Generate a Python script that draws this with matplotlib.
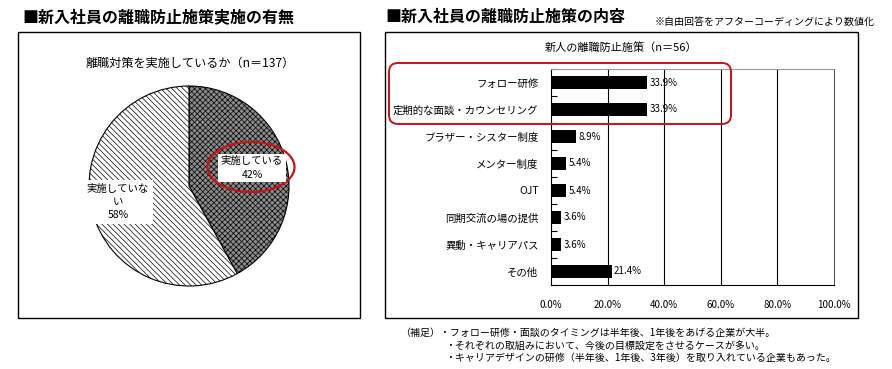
import matplotlib
matplotlib.use('Agg')
import matplotlib.pyplot as plt
from matplotlib.patches import Rectangle, Ellipse, FancyBboxPatch
from matplotlib.transforms import IdentityTransform
import numpy as np

plt.rcParams['font.family'] = ['Noto Sans CJK JP', 'DejaVu Sans']
plt.rcParams['hatch.linewidth'] = 0.5

W, H = 892, 369

# left: pie data
pie_labels = ['実施している', '実施していな\nい']
pie_values = [42, 58]

# right: bar data
categories = ['フォロー研修', '定期的な面談・カウンセリング', 'ブラザー・シスター制度',
              'メンター制度', 'OJT', '同期交流の場の提供', '異動・キャリアパス', 'その他']
values = [33.9, 33.9, 8.9, 5.4, 5.4, 3.6, 3.6, 21.4]
xticks = [0, 20, 40, 60, 80, 100]

notes = ['（補足）・フォロー研修・面談のタイミングは半年後、1年後をあげる企業が大半。',
         '・それぞれの取組みにおいて、今後の目標設定をさせるケースが多い。',
         '・キャリアデザインの研修（半年後、1年後、3年後）を取り入れている企業もあった。']


def fx(x):
    return x / W


def fy(y):
    return 1 - y / H


def px_axes(fig, l, t, r, b):
    return fig.add_axes([fx(l), fy(b), (r - l) / W, (b - t) / H])


fig = plt.figure(figsize=(W / 100, H / 100), dpi=100)

# titles and frames
fig.text(fx(22), fy(17), '■新入社員の離職防止施策実施の有無', fontsize=11.5,
         fontweight='bold', va='center', ha='left')
fig.text(fx(385), fy(17), '■新入社員の離職防止施策の内容', fontsize=11.5,
         fontweight='bold', va='center', ha='left')
fig.text(fx(875), fy(22), '※自由回答をアフターコーディングにより数値化', fontsize=7.2,
         va='center', ha='right')

for (l, t, r, b) in [(18, 32, 360, 318), (385, 32, 858, 318)]:
    fig.add_artist(Rectangle((fx(l), fy(b)), (r - l) / W, (b - t) / H,
                             transform=fig.transFigure, fill=False,
                             edgecolor='black', lw=1.0))

# pie
fig.text(fx(190), fy(63), '離職対策を実施しているか（n＝137）', fontsize=8.7,
         ha='center', va='center')
axp = px_axes(fig, 88, 85, 290, 287)
wedges, _ = axp.pie(pie_values, startangle=90, counterclock=False,
                    wedgeprops=dict(edgecolor='black', linewidth=0.8))
wedges[0].set_facecolor('#8c8c8c')
wedges[0].set_hatch('xxxxxx')
wedges[1].set_facecolor('white')
wedges[1].set_hatch('\\\\\\\\\\\\')
for w in wedges:
    w.set_edgecolor('black')
axp.set_xlim(-1.01, 1.01)
axp.set_ylim(-1.01, 1.01)
axp.set_aspect('equal')
axp.axis('off')

fig.text(fx(252), fy(168), pie_labels[0] + '\n' + f'{pie_values[0]}%', fontsize=7.5,
         ha='center', va='center', linespacing=1.4,
         bbox=dict(facecolor='white', edgecolor='none', pad=2))
fig.text(fx(118), fy(202), pie_labels[1] + '\n' + f'{pie_values[1]}%', fontsize=7.5,
         ha='center', va='center', linespacing=1.4,
         bbox=dict(facecolor='white', edgecolor='none', pad=3))
fig.add_artist(Ellipse((fx(251), fy(167)), 87 / W, 50 / H, transform=fig.transFigure,
                       fill=False, edgecolor='#cc1111', lw=1.6))

# bar chart
fig.text(fx(621), fy(47), '新人の離職防止施策（n＝56）', fontsize=8, ha='center', va='center')
ax = px_axes(fig, 551, 69, 834, 285)
y = np.arange(len(categories))
ax.barh(y, values, height=0.48, color='black', zorder=3)
for yi, v in zip(y, values):
    ax.text(v + 0.8, yi, f'{v:.1f}%', fontsize=7, va='center', ha='left', zorder=4)
ax.set_ylim(len(categories) - 0.5, -0.5)
ax.set_xlim(0, 100)
ax.set_xticks(xticks)
ax.set_xticklabels([f'{t:.1f}%' for t in xticks], fontsize=7)
ax.tick_params(axis='x', length=0, pad=11)
ax.set_yticks(y)
ax.set_yticklabels(categories, fontsize=7.5)
ax.tick_params(axis='y', which='major', length=0, pad=9)
ax.set_yticks(np.arange(-0.5, len(categories), 1), minor=True)
ax.tick_params(axis='y', which='minor', direction='in', length=4, width=0.8)
for xt in xticks[1:-1]:
    ax.axvline(xt, color='black', lw=0.8, zorder=1)
ax.spines['left'].set_color('black')
ax.spines['bottom'].set_color('black')
ax.spines['top'].set_color('#999999')
ax.spines['right'].set_color('#555555')
for s in ax.spines.values():
    s.set_linewidth(0.8)

fig.add_artist(FancyBboxPatch((389, H - 124), 342, 61,
                              boxstyle='round,pad=0,rounding_size=9',
                              transform=IdentityTransform(), fill=False,
                              edgecolor='#cc1111', lw=1.4))

# footnotes
fig.text(fx(400), fy(333), notes[0], fontsize=7.2, ha='left', va='center')
fig.text(fx(445), fy(346), notes[1], fontsize=7.2, ha='left', va='center')
fig.text(fx(445), fy(358), notes[2], fontsize=7.2, ha='left', va='center')

fig.savefig('out.png', dpi=100)
